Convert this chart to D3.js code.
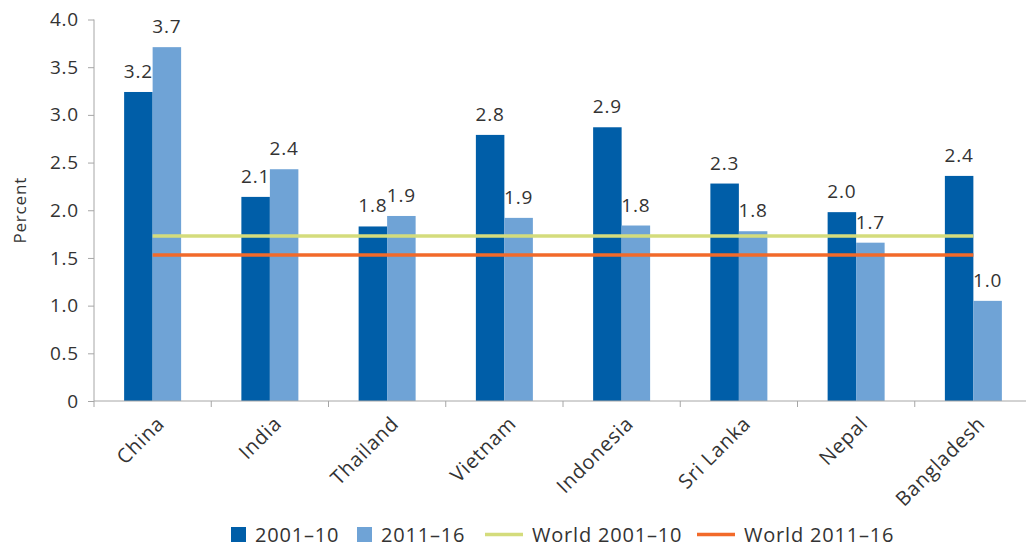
<!DOCTYPE html>
<html>
<head>
<meta charset="utf-8">
<script src="https://cdn.jsdelivr.net/npm/d3@7"></script>
<style>
  body { margin: 0; background: #fff; }
  text { font-family: "Open Sans", "Noto Sans", sans-serif; fill: #333; letter-spacing: 0.8px; }
</style>
</head>
<body>
<div id="chart"></div>
<script>
const width = 1026, height = 546
const margin = { top: 19.5, right: -6, bottom: 145, left: 94 }

// data
const countries = ["China", "India", "Thailand", "Vietnam", "Indonesia", "Sri Lanka", "Nepal", "Bangladesh"]
const series = ["2001–10", "2011–16"]
const values2001 = [3.24, 2.14, 1.83, 2.79, 2.87, 2.28, 1.98, 2.36]
const values2011 = [3.71, 2.43, 1.94, 1.92, 1.84, 1.78, 1.66, 1.05]
const labels2001 = ["3.2", "2.1", "1.8", "2.8", "2.9", "2.3", "2.0", "2.4"]
const labels2011 = ["3.7", "2.4", "1.9", "1.9", "1.8", "1.8", "1.7", "1.0"]
const worldNames = ["World 2001–10", "World 2011–16"]
const worldValues = [1.73, 1.53]
const yTicks = [0, 0.5, 1, 1.5, 2, 2.5, 3, 3.5, 4]

const barColors = ["#005ea8", "#6fa3d6"]
const lineColors = ["#d4dc7c", "#f26a2a"]

const svg = d3.select("#chart").append("svg")
    .attr("width", width)
    .attr("height", height)

const x = d3.scaleBand(countries, [margin.left, width - margin.right]).paddingInner(0).paddingOuter(0)
const sub = d3.scaleBand([0, 1], [0, 57]).padding(0)
const y = d3.scaleLinear([0, 4], [height - margin.bottom, margin.top])

// y axis
svg.append("g")
    .attr("transform", `translate(${margin.left},0)`)
    .call(d3.axisLeft(y).tickValues(yTicks).tickSize(6).tickPadding(9)
        .tickFormat(d => d === 0 ? "0" : d3.format(".1f")(d)))
    .call(g => g.select(".domain").attr("stroke", "#a6a6a6").attr("d", `M0,${y(4)}V${y(0)}`))
    .call(g => g.selectAll(".tick line").attr("stroke", "#a6a6a6"))
    .call(g => g.selectAll(".tick text").attr("font-size", 19).attr("fill", "#333")
        .style("font-family", "'Open Sans', sans-serif"))

svg.append("text")
    .attr("transform", `translate(26,${y(2)}) rotate(-90)`)
    .attr("text-anchor", "middle")
    .attr("font-size", 17)
    .text("Percent")

// bars
const rows = countries.map((c, i) => ({ c, v: [values2001[i], values2011[i]], l: [labels2001[i], labels2011[i]] }))
const groups = svg.append("g").selectAll("g")
    .data(rows)
    .join("g")
    .attr("transform", d => `translate(${x(d.c) + x.bandwidth() / 2 - 28.5},0)`)

groups.selectAll("rect")
    .data(d => d.v.map((v, k) => ({ v, k })))
    .join("rect")
    .attr("x", d => sub(d.k))
    .attr("width", sub.bandwidth())
    .attr("y", d => y(d.v))
    .attr("height", d => y(0) - y(d.v))
    .attr("fill", d => barColors[d.k])

groups.selectAll("text")
    .data(d => d.v.map((v, k) => ({ v, k, l: d.l[k] })))
    .join("text")
    .attr("x", d => sub(d.k) + sub.bandwidth() / 2)
    .attr("y", d => y(d.v) - 14)
    .attr("text-anchor", "middle")
    .attr("font-size", 19)
    .text(d => d.l)

// x axis
svg.append("g")
    .attr("transform", `translate(0,${y(0)})`)
    .call(g => g.append("line")
        .attr("x1", margin.left).attr("x2", width)
        .attr("stroke", "#a6a6a6"))
    .call(g => g.selectAll("line.tk")
        .data(countries.map(c => x(c)).concat([x.range()[1]]))
        .join("line")
        .attr("class", "tk")
        .attr("x1", d => d).attr("x2", d => d)
        .attr("y1", 0).attr("y2", 6)
        .attr("stroke", "#a6a6a6"))
    .call(g => g.selectAll("text")
        .data(countries)
        .join("text")
        .attr("transform", d => `translate(${x(d) + x.bandwidth() / 2 + 8},${19}) rotate(-45)`)
        .attr("text-anchor", "end")
        .attr("dy", "0.35em")
        .attr("font-size", 20)
        .text(d => d))

// world lines
const x0 = x(countries[0]) + x.bandwidth() / 2
const x1 = x(countries[countries.length - 1]) + x.bandwidth() / 2
svg.append("g").selectAll("line")
    .data(worldValues)
    .join("line")
    .attr("x1", x0).attr("x2", x1)
    .attr("y1", d => y(d)).attr("y2", d => y(d))
    .attr("stroke", (d, i) => lineColors[i])
    .attr("stroke-width", 3.5)

// legend
const legend = svg.append("g").attr("transform", "translate(0,534.5)")
const items = [
    { type: "rect", color: barColors[0], name: series[0], x: 231 },
    { type: "rect", color: barColors[1], name: series[1], x: 357 },
    { type: "line", color: lineColors[0], name: worldNames[0], x: 485 },
    { type: "line", color: lineColors[1], name: worldNames[1], x: 697 }
]
items.forEach(it => {
    if (it.type === "rect") {
        legend.append("rect").attr("x", it.x).attr("y", -7.5).attr("width", 15).attr("height", 15).attr("fill", it.color)
        legend.append("text").attr("x", it.x + 24).attr("y", 0).attr("dy", "0.35em").attr("font-size", 20).text(it.name)
    } else {
        legend.append("line").attr("x1", it.x).attr("x2", it.x + 38).attr("y1", 0).attr("y2", 0)
            .attr("stroke", it.color).attr("stroke-width", 3.5)
        legend.append("text").attr("x", it.x + 47).attr("y", 0).attr("dy", "0.35em").attr("font-size", 20).text(it.name)
    }
})
</script>
</body>
</html>
